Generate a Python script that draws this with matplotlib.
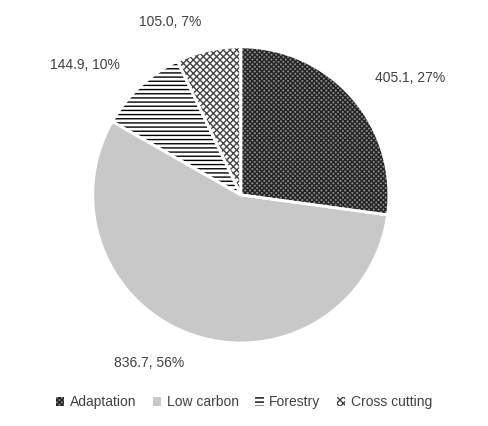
import matplotlib
matplotlib.use("Agg")
import matplotlib.pyplot as plt
from matplotlib.patches import Patch

categories = ["Adaptation", "Low carbon", "Forestry", "Cross cutting"]
values = [405.1, 836.7, 144.9, 105.0]

total = sum(values)
labels = [f"{v:.1f}, {round(100 * v / total):d}%" for v in values]
faces = ["#888888", "#c8c8c8", "white", "white"]
hatches = ["xxxxxxx", None, "----", "xxxxx"]
hatch_cols = ["#222222", "#c8c8c8", "black", "#444444"]

plt.rcParams["font.family"] = ["Liberation Sans", "DejaVu Sans"]
fig = plt.figure(figsize=(4.88, 4.26), dpi=100)
ax = fig.add_axes([0.19, 0.195, 0.607, 0.695])

wedges, texts = ax.pie(values, startangle=90, counterclock=False, colors=faces,
                       labels=labels, labeldistance=1.2,
                       textprops={"fontsize": 10, "color": "#404040"})
for w, h, hc in zip(wedges, hatches, hatch_cols):
    w.set_edgecolor(hc)
    w.set_linewidth(0)
    if h:
        w.set_hatch(h)
# white separators on top
ax.pie(values, startangle=90, counterclock=False, colors=["none"] * 4,
       wedgeprops={"edgecolor": "white", "linewidth": 2})
ax.set_xlim(-1, 1)
ax.set_ylim(-1, 1)
ax.set_aspect("equal")

handles = [Patch(facecolor=f, edgecolor=hc, hatch=h, linewidth=0)
           for f, h, hc in zip(faces, hatches, hatch_cols)]
fig.legend(handles, categories, loc="lower center", ncol=4, frameon=False,
           fontsize=10, handlelength=0.6, handleheight=0.6, handletextpad=0.4,
           columnspacing=1.2, bbox_to_anchor=(0.5, 0.01),
           labelcolor="#404040")

fig.savefig("out.png", dpi=100)
